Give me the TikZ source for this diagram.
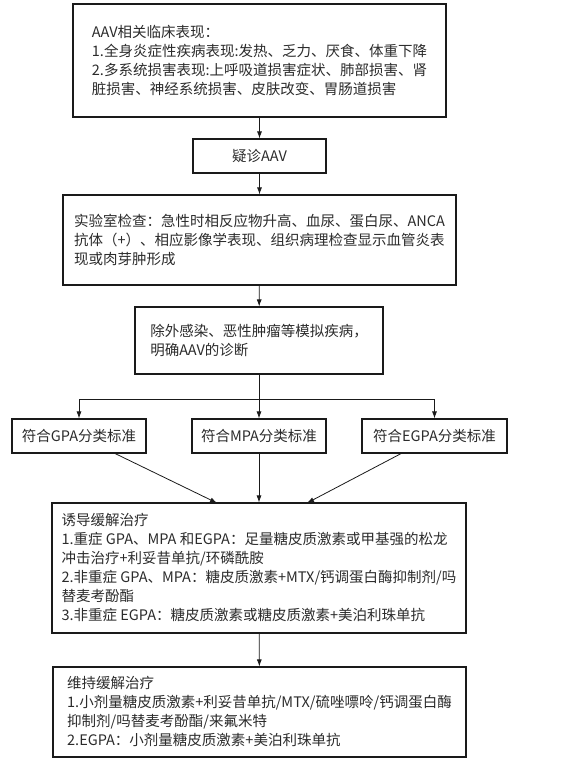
\documentclass[tikz,border=0pt]{standalone}
\usepackage{fontspec}
\setmainfont{Noto Sans CJK SC}
\usepackage{tikz}
\usetikzlibrary{arrows.meta,positioning}
\definecolor{boxline}{HTML}{1A1A1A}
\definecolor{textgray}{HTML}{2B2B2B}
\tikzset{
  flowbox/.style={draw=boxline,line width=1.1pt,align=left,inner sep=0pt,text=textgray,
    font=\fontsize{14.5}{19}\selectfont},
  flowarrow/.style={-{Latex[length=7pt,width=5pt]},line width=0.8pt,boxline}
}

\begin{document}
\begin{tikzpicture}[x=1pt,y=-1pt]
  \useasboundingbox (0,0) rectangle (569,762);
  \node[flowbox,minimum width=373pt,minimum height=113pt] (clin) at (259.5,60.5)
    {AAV相关临床表现：\\1.全身炎症性疾病表现:发热、乏力、厌食、体重下降\\2.多系统损害表现:上呼吸道损害症状、肺部损害、肾\\脏损害、神经系统损害、皮肤改变、胃肠道损害};
  \node[flowbox,minimum width=133pt,minimum height=34pt,align=center] (susp) at (259.5,156) {疑诊AAV};
  \node[flowbox,minimum width=393pt,minimum height=90pt] (lab) at (259.5,240)
    {实验室检查：急性时相反应物升高、血尿、蛋白尿、ANCA\\抗体（+）、相应影像学表现、组织病理检查显示血管炎表\\现或肉芽肿形成};
  \node[flowbox,minimum width=248pt,minimum height=67pt] (excl) at (259,340.5)
    {除外感染、恶性肿瘤等模拟疾病，\\明确AAV的诊断};
  \node[flowbox,minimum width=134pt,minimum height=34pt,align=center] (gpa) at (79,436) {符合GPA分类标准};
  \node[flowbox,minimum width=134pt,minimum height=34pt,align=center] (mpa) at (259,436) {符合MPA分类标准};
  \node[flowbox,minimum width=145pt,minimum height=34pt,align=center] (egpa) at (434.5,436) {符合EGPA分类标准};
  \node[flowbox,minimum width=414pt,minimum height=130pt] (induce) at (259,568)
    {诱导缓解治疗\\1.重症 GPA、MPA 和EGPA：足量糖皮质激素或甲基强的松龙\\冲击治疗+利妥昔单抗/环磷酰胺\\2.非重症 GPA、MPA：糖皮质激素+MTX/钙调蛋白酶抑制剂/吗\\替麦考酚酯\\3.非重症 EGPA：糖皮质激素或糖皮质激素+美泊利珠单抗};
  \node[flowbox,minimum width=413pt,minimum height=90pt] (maint) at (259.5,712)
    {维持缓解治疗\\1.小剂量糖皮质激素+利妥昔单抗/MTX/硫唑嘌呤/钙调蛋白酶\\抑制剂/吗替麦考酚酯/来氟米特\\2.EGPA：小剂量糖皮质激素+美泊利珠单抗};
  \coordinate (split) at (259,399);
  \coordinate (inL) at (217,503);
  \coordinate (inR) at (307,503);
  \draw[flowarrow] (clin) -- (susp);
  \draw[flowarrow] (susp) -- (lab);
  \draw[flowarrow] (lab) -- (excl);
  \draw[line width=0.8pt,boxline] (excl) -- (split);
  \draw[flowarrow] (split) -| (gpa);
  \draw[flowarrow] (split) -- (mpa);
  \draw[flowarrow] (split) -| (egpa);
  \draw[flowarrow] (gpa) -- (inL);
  \draw[flowarrow] (mpa) -- (induce);
  \draw[flowarrow] (egpa) -- (inR);
  \draw[flowarrow] (induce) -- (maint);
\end{tikzpicture}
\end{document}
